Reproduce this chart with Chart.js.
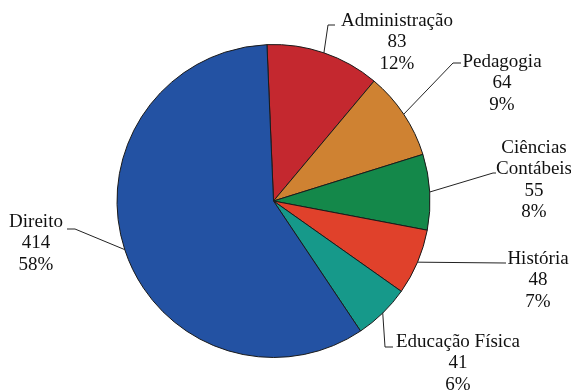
<!DOCTYPE html>
<html>
<head>
<meta charset="utf-8">
<script src="https://cdn.jsdelivr.net/npm/chart.js@4/dist/chart.umd.min.js"></script>
<style>
html,body{margin:0;padding:0;background:#fff;}
#wrap{width:571px;height:391px;position:relative;}
</style>
</head>
<body>
<div id="wrap"><canvas id="c" width="571" height="391"></canvas></div>
<script>
const categories = ["Administração", "Pedagogia", "Ciências Contábeis", "História", "Educação Física", "Direito"];
const labelLines = [["Administração"], ["Pedagogia"], ["Ciências", "Contábeis"], ["História"], ["Educação Física"], ["Direito"]];
const counts = [83, 64, 55, 48, 41, 414];
const percents = ["12%", "9%", "8%", "7%", "6%", "58%"];
const colors = ["#c4282f", "#cf8232", "#14884a", "#e0412b", "#16998a", "#2352a3"];

// Layout of the callouts (elbow point, end of tick, text center x, first text row y)
const callouts = [
  {elbow:[328,25], end:[335,25], tx:397, ty:21},
  {elbow:[453,63], end:[461,63], tx:502, ty:62},
  {elbow:[493,173], end:[496,173], tx:534, ty:148},
  {elbow:[505,263], end:[506,263], tx:538, ty:259},
  {elbow:[385,347], end:[393,347], tx:458, ty:342},
  {elbow:[75,229], end:[67,229], tx:36, ty:222}
];

const calloutPlugin = {
  id: 'callouts',
  afterDatasetsDraw(chart) {
    const ctx = chart.ctx;
    const arcs = chart.getDatasetMeta(0).data;
    ctx.save();
    ctx.strokeStyle = '#222';
    ctx.lineWidth = 1;
    ctx.fillStyle = '#111';
    ctx.font = '19px "Liberation Serif", "Times New Roman", serif';
    ctx.textAlign = 'center';
    ctx.textBaseline = 'middle';
    arcs.forEach((arc, i) => {
      const p = arc.getProps(['x','y','startAngle','endAngle','outerRadius'], true);
      const mid = (p.startAngle + p.endAngle) / 2;
      const sx = p.x + Math.cos(mid) * p.outerRadius;
      const sy = p.y + Math.sin(mid) * p.outerRadius;
      const c = callouts[i];
      ctx.beginPath();
      ctx.moveTo(sx, sy);
      ctx.lineTo(c.elbow[0], c.elbow[1]);
      ctx.lineTo(c.end[0], c.end[1]);
      ctx.stroke();
      const rows = labelLines[i].concat([String(counts[i]), percents[i]]);
      rows.forEach((t, k) => {
        ctx.fillText(t, c.tx, c.ty + k * 21.3);
      });
    });
    ctx.restore();
  }
};

new Chart(document.getElementById('c'), {
  type: 'pie',
  data: {
    labels: categories,
    datasets: [{
      data: counts,
      backgroundColor: colors,
      borderColor: '#1a1a1a',
      borderWidth: 1
    }]
  },
  options: {
    responsive: false,
    animation: false,
    rotation: -2.4,
    layout: { padding: { left: 116, right: 140, top: 44, bottom: 33 } },
    plugins: {
      legend: { display: false },
      tooltip: { enabled: false }
    }
  },
  plugins: [calloutPlugin]
});
</script>
</body>
</html>
